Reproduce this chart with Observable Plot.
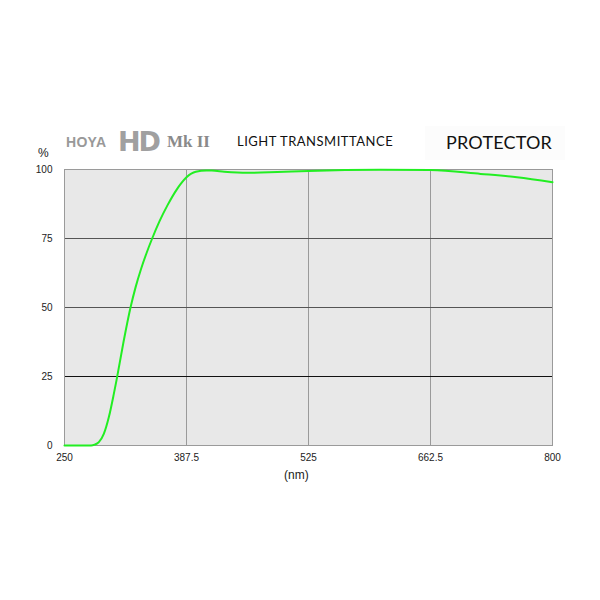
<!DOCTYPE html>
<html><head><meta charset="utf-8">
<script src="https://cdn.jsdelivr.net/npm/d3@7"></script>
<script src="https://cdn.jsdelivr.net/npm/@observablehq/plot@0.6"></script>
<style>
body{margin:0;background:#fff;}
#wrap{position:relative;width:600px;height:600px;overflow:hidden;}
.t{position:absolute;white-space:nowrap;line-height:1;}
</style></head><body>
<div id="wrap">
  <div class="t" style="left:425px;top:126px;width:140px;height:34px;background:#fcfcfc;"></div>
  <div class="t" style="left:66px;top:134px;font:bold 14px 'Liberation Sans',sans-serif;color:#999;letter-spacing:0.3px;">HOYA</div>
  <div class="t" style="left:118px;top:126px;font:900 27px 'DejaVu Sans',sans-serif;color:#a0a0a0;letter-spacing:-2px;">HD</div>
  <div class="t" style="left:167px;top:132px;font:bold 17px 'Liberation Serif',serif;color:#8a8a8a;">Mk II</div>
  <div class="t" style="left:237px;top:133px;font:13px 'Lato',sans-serif;color:#111;letter-spacing:0.5px;">LIGHT TRANSMITTANCE</div>
  <div class="t" style="left:446px;top:131px;font:18px 'Lato',sans-serif;color:#111;letter-spacing:0.2px;">PROTECTOR</div>
  <div class="t" style="left:38px;top:146px;font:12px 'Liberation Sans',sans-serif;color:#222;">%</div>
  <div class="t" style="left:284px;top:468px;font:12px 'Liberation Sans',sans-serif;color:#222;">(nm)</div>
  <div id="chart" style="position:absolute;left:0;top:0;"></div>
</div>
<script>
const wavelength = [250,280,284,288.7,294.3,300,305.6,308.6,316.5,324.4,330,336,342,348.8,357,366,377,381,387.5,398,410,416,430,456,490,525,606,662.5,719,760,800];
const transmittance = [0,0,0.3,1.2,4.2,10.3,18.7,23.6,37.5,50,57.2,63.7,69.3,75,81.2,87,93,94.8,97.2,99.2,99.6,99.6,99.2,98.8,99.1,99.5,99.9,99.8,98.4,97.2,95.4];
const xTicks = [250,387.5,525,662.5,800];
const yTicks = [0,25,50,75,100];
const vGrid = [387.5,525,662.5];
const hGrid = [25,50,75];

const data = wavelength.map((w,i)=>({w, t: transmittance[i]}));

const chart = Plot.plot({
  width: 600, height: 600,
  marginLeft: 64, marginRight: 48, marginTop: 169, marginBottom: 155,
  style: {background: "transparent", fontFamily: "'Liberation Sans', sans-serif", fontSize: "10px", color: "#222"},
  x: {domain: [250,800], ticks: xTicks, tickFormat: d => String(d), tickSize: 0, tickPadding: 8, label: null},
  y: {domain: [0,100], ticks: yTicks, tickSize: 0, tickPadding: 12, label: null},
  marks: [
    Plot.frame({fill: "#e8e8e8"}),
    Plot.ruleX(vGrid, {stroke: "#9a9a9a", strokeWidth: 1}),
    Plot.ruleY(hGrid, {stroke: d => d === 25 ? "#111" : "#555", strokeWidth: 1}),
    Plot.frame({stroke: "#9a9a9a", strokeWidth: 1}),
    Plot.line(data, {x: "w", y: "t", stroke: "#22ee22", strokeWidth: 2, curve: "monotone-x"}),
    Plot.axisX({ticks: xTicks, tickFormat: d => String(d), tickSize: 0, tickPadding: 8, label: null}),
    Plot.axisY({ticks: yTicks, tickSize: 0, tickPadding: 12, label: null})
  ]
});
document.getElementById("chart").appendChild(chart);
</script>
</body></html>
